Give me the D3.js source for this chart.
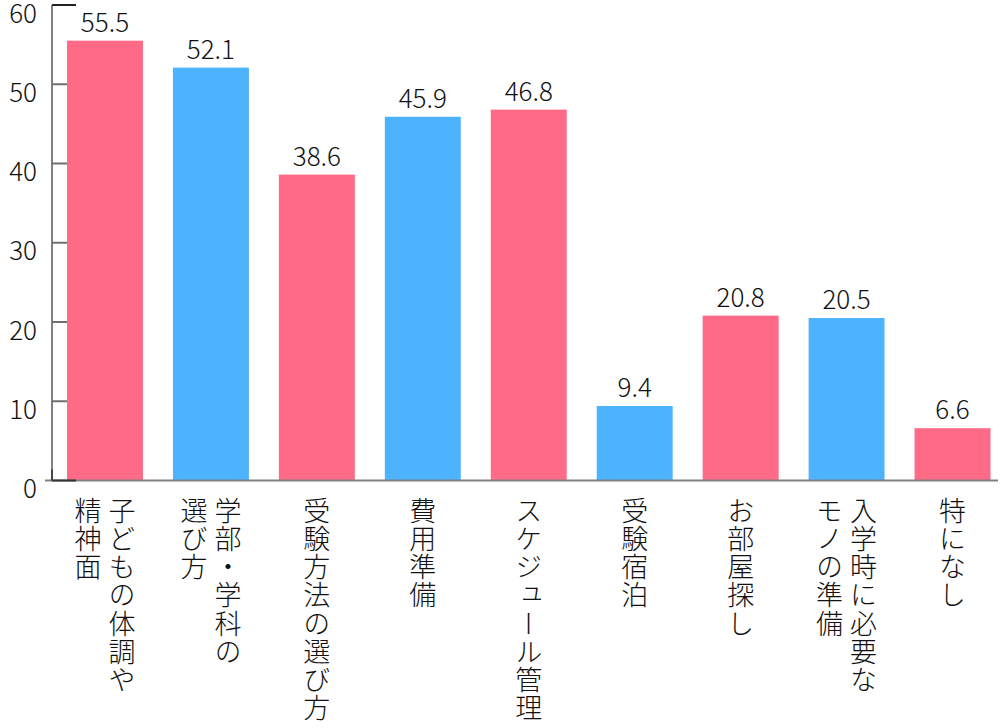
<!DOCTYPE html>
<html><head><meta charset="utf-8">
<script src="https://cdn.jsdelivr.net/npm/d3@7"></script>
<style>
html,body{margin:0;padding:0;background:#fff;}
svg{display:block;font-family:"Noto Sans CJK JP","Noto Sans",sans-serif;font-weight:300;}
</style></head>
<body>
<svg id="c" width="1006" height="728"></svg>
<script>
const categories = [
  ["子どもの体調や","精神面"],
  ["学部・学科の","選び方"],
  ["受験方法の選び方"],
  ["費用準備"],
  ["スケジュール管理"],
  ["受験宿泊"],
  ["お部屋探し"],
  ["入学時に必要な","モノの準備"],
  ["特になし"]
];
const values = [55.5, 52.1, 38.6, 45.9, 46.8, 9.4, 20.8, 20.5, 6.6];
const barColors = ["#ff6b86","#4db3ff","#ff6b86","#4db3ff","#ff6b86","#4db3ff","#ff6b86","#4db3ff","#ff6b86"];
const yTicks = [0,10,20,30,40,50,60];

const svg = d3.select("#c");
const x0 = 52, y0 = 480.5, yTop = 5;
const x = d3.scaleBand().domain(d3.range(categories.length)).range([x0, 1005.5]).paddingInner(0.283).paddingOuter(0.1415);
const y = d3.scaleLinear().domain([0,60]).range([y0, yTop]);

// bars
svg.selectAll("rect.bar").data(values).join("rect")
  .attr("class","bar")
  .attr("x",(d,i)=>x(i)).attr("width",x.bandwidth())
  .attr("y",d=>y(d)).attr("height",d=>y0-y(d))
  .attr("fill",(d,i)=>barColors[i]);

// value labels
svg.selectAll("text.val").data(values).join("text")
  .attr("class","val")
  .attr("x",(d,i)=>x(i)+x.bandwidth()/2)
  .attr("y",d=>y(d)-9)
  .attr("text-anchor","middle")
  .attr("font-size",26).attr("fill","#111")
  .text(d=>d.toFixed(1));

// y axis
const yAxis = d3.axisLeft(y).tickValues(yTicks).tickSize(0).tickPadding(0);
const gy = svg.append("g").attr("transform",`translate(${x0},0)`).call(yAxis);
gy.select(".domain").remove();
gy.selectAll(".tick text").attr("x",-15).attr("dy",17).attr("font-size",26).attr("fill","#111")
  .attr("font-family","'Noto Sans CJK JP','Noto Sans',sans-serif").attr("font-weight",300);
// axis line
svg.append("line").attr("x1",x0).attr("x2",x0).attr("y1",yTop).attr("y2",y0).attr("stroke","#808080").attr("stroke-width",2);
// ticks
svg.selectAll("line.tk").data(yTicks.filter(t=>t>0 && t<60)).join("line").attr("class","tk")
  .attr("x1",x0).attr("x2",x0+15).attr("y1",d=>y(d)).attr("y2",d=>y(d)).attr("stroke","#707070").attr("stroke-width",2);
svg.append("line").attr("x1",x0).attr("x2",x0+24).attr("y1",y(60)).attr("y2",y(60)).attr("stroke","#222").attr("stroke-width",2);
// baseline
svg.append("line").attr("x1",45).attr("x2",998).attr("y1",y0).attr("y2",y0).attr("stroke","#808080").attr("stroke-width",2);
svg.append("line").attr("x1",x0).attr("x2",x0+24).attr("y1",y0).attr("y2",y0).attr("stroke","#333").attr("stroke-width",2);
svg.append("line").attr("x1",x0).attr("x2",x0).attr("y1",y0-11).attr("y2",y0).attr("stroke","#444").attr("stroke-width",2);

// category labels (vertical)
const colGap = 34;
categories.forEach((lines,i)=>{
  const cx = x(i)+x.bandwidth()/2;
  const n = lines.length;
  lines.forEach((t,j)=>{
    const off = (n-1)/2*colGap - j*colGap;
    svg.append("text")
      .attr("x",cx+off).attr("y",497)
      .attr("writing-mode","vertical-rl")
      .attr("font-size",27).attr("letter-spacing",1.2).attr("fill","#111")
      .text(t);
  });
});
</script>
</body></html>
